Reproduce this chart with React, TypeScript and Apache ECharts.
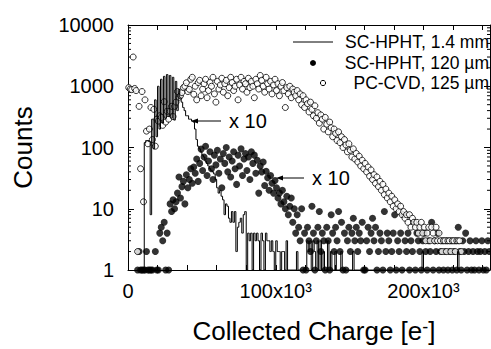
import React, { useEffect, useRef } from 'react';
import * as echarts from 'echarts';

// bin width of the histograms, in electrons
const BIN_WIDTH = 1000;

// SC-HPHT, 1.4 mm (line, x10 scaled histogram), counts per 1k e- bin starting at 0
const lineCounts: (number | null)[] = [
  null, null, null, null, null, null, null, null, null, null,
  1, 120, 130, 130, 125, 8, 290, 95, 600, 150,
  1000, 200, 1300, 250, 1450, 300, 1550, 320, 1500, 300,
  1400, 280, 1200, 400, 890, 650, 550, 450, 400, 330,
  330, 290, 290, 270, 260, 200, 135, 105, 95, 85,
  75, 70, 60, 55, 50, 45, 42, 40, 37, 30,
  22, 18, 20, 16, 14, 8, 12, 11, 7, 6,
  9, 6, 9, 2, 5, 6, 7, 4, 8, 9,
  1, 4, 3, 4, 1, 4, 3, 4, 3, 1,
  4, 3, 1, 4, 3, 3, 2, 3, 2, 1,
  3, 2, 2, 1, 2, 2, 1, 3, 1, 1,
  1, 1, 1, 1, 2, 1, 1, 1, 1, 1,
  1, 3, 2, 3, 1, 3, 2, 1, 3, 1,
  3, 1, 2, 1, 1, 3, 1, 2, 1, 1,
  2, 1, 1, 1, 2, 1, 1, 1, 1, 1,
  1, 1, 2, 1, 1, 1, 1, 1, 1, 1,
  1, 1, 1, 1, 1, 1, 1, 1, 1, 1,
  1, 1, 1, 1, 1, 1, 1, 1, 1, 1,
  1, 1, 1, 1, 1, 1, 1, 1, 1, 1,
  1, 1, 1, 1, 1, 1, 1, 1, 1, 2,
  1, 1, 1, 1, 1, 1, 1, 1, 1, 1,
  1, 1, 1, 1, 1, 1, 1, 1, 1, 1,
  1, 1, 1, 2, 1, 1, 1, 1, 1, 1,
  1, 1, 1, 1, 1, 1, 1, 1, 1, 1,
  1, 1, 1, 1, 1,
];

// SC-HPHT, 120 um (filled dots, x10 scaled)
const filledCounts: (number | null)[] = [
  null, null, null, null, null, null, 1, 2, 1, 1,
  1, 1, 2, 1, 1, 1, 1, null, 2, 1,
  1, 4, 5, 3, 6, 1, 4, 1, 12, 9,
  14, 10, 13, 18, 33, 15, 23, 28, 12, 36,
  22, 30, 45, 26, 48, 38, 65, 28, 55, 94,
  42, 70, 105, 35, 60, 85, 45, 30, 75, 52,
  90, 38, 65, 22, 80, 55, 100, 40, 70, 33,
  60, 85, 45, 25, 75, 50, 95, 35, 65, 80,
  42, 70, 30, 85, 55, 75, 38, 62, 18, 50,
  40, 58, 24, 41, 32, 20, 35, 26, 18, 29,
  22, 15, 18, 12, 20, 13, 10, 16, 8, 11,
  15, 6, 10, 4, 8, 5, 3, 10, 1, 4,
  1, 5, 3, 2, 11, 4, 1, 3, 5, 9,
  2, 4, 3, 1, 5, 3, 1, 8, 4, 2,
  5, 3, 9, 2, 6, 1, 4, 1, 3, 5,
  2, 4, 7, 3, 5, 2, 4, 3, 6, 1,
  1, 3, 5, 2, 4, 7, 3, 5, 1, 2,
  4, 3, 1, 9, 2, 4, 3, 1, 2, 4,
  8, 1, 3, 2, 4, 1, 8, 3, 2, 4,
  1, 3, 2, 6, 1, 4, 3, 2, 1, 3,
  4, 2, 1, 3, 2, 6, 1, 3, 2, 4,
  1, 2, 3, 1, 2, 3, 1, 2, 3, 1,
  2, 3, 1, 5, 2, 1, 3, 2, 4, 1,
  2, 3, 1, 2, 1, 3, 2, 1, 2, 3,
  1, 2, 1, 3, 2,
];

// PC-CVD, 125 um (open circles)
const openCounts: (number | null)[] = [
  950, 900, 880, 3000, 920, 850, 2, 470, 45, 820,
  13, 600, 185, 115, 200, 450, 135, 420, 105, 290,
  270, 330, 310, 230, 560, 260, 390, 290, 390, 470,
  320, 470, 550, 820, 660, 700, 790, 950, 1000, 1140,
  820, 890, 1300, 1400, 740, 1000, 600, 1150, 1250, 700,
  900, 1100, 1300, 650, 850, 1150, 1000, 1400, 750, 550,
  1200, 900, 1050, 1350, 800, 1100, 1250, 700, 950, 1400,
  1150, 850, 1000, 1300, 600, 1050, 1400, 900, 1200, 1100,
  800, 1350, 950, 1200, 1000, 650, 1300, 1100, 900, 1500,
  1250, 1000, 800, 1400, 1100, 900, 1200, 750, 1050, 1300,
  850, 1100, 700, 1000, 1150, 850, 450, 950, 750, 1000,
  650, 900, 800, 700, 850, 600, 750, 500, 700, 450,
  600, 520, 380, 550, 420, 330, 480, 300, 370, 250,
  340, 290, 200, 310, 240, 180, 260, 210, 150, 200,
  170, 130, 180, 120, 150, 100, 135, 110, 85, 115,
  90, 70, 95, 65, 80, 58, 72, 50, 62, 45,
  55, 40, 48, 34, 43, 30, 36, 26, 33, 23,
  28, 20, 25, 17, 21, 15, 18, 13, 16, 11,
  14, 10, 12, 9, 11, 8, 9, 7, 8, 6,
  8, 5, 7, 6, 5, 6, 4, 5, 6, 4,
  5, 3, 4, 5, 3, 5, 4, 3, 5, 3,
  4, 3, 2, 3, 3, 2, 3, 3, 2, 3,
  3, 2, 3, 3, 3, 2, null, null, null, null,
  null, null, null, null, null, null, null, null, null, null,
  null, null, null, null, null,
];

const seriesNames = ['SC-HPHT, 1.4 mm', 'SC-HPHT, 120 µm', 'PC-CVD, 125 µm'];
const xTickLabels: Record<number, string> = { 0: '0', 100000: '100x10³', 200000: '200x10³' };
const yMinorTicks = [
  2, 3, 4, 5, 6, 7, 8, 9,
  20, 30, 40, 50, 60, 70, 80, 90,
  200, 300, 400, 500, 600, 700, 800, 900,
  2000, 3000, 4000, 5000, 6000, 7000, 8000, 9000,
];
const annotationText = 'x 10';

const FONT = 'Liberation Sans';

function toPairs(counts: (number | null)[]) {
  const out: [number, number][] = [];
  counts.forEach((c, i) => {
    if (c != null) out.push([(i + 0.5) * BIN_WIDTH, c]);
  });
  return out;
}

export default function App() {
  const ref = useRef<HTMLDivElement>(null);
  useEffect(() => {
    if (!ref.current) return;
    const chart = echarts.init(ref.current, null, { renderer: 'svg' });
    const axisLine = { show: true, onZero: false, lineStyle: { color: '#000', width: 1 } };
    const xBase = {
      type: 'value' as const,
      min: 0,
      max: 245000,
      interval: 20000,
      axisLine,
      splitLine: { show: false },
      axisTick: { show: true, inside: true, length: 5, lineStyle: { color: '#000', width: 1 } },
    };
    const yBase = {
      type: 'log' as const,
      logBase: 10,
      min: 1,
      max: 10000,
      axisLine,
      splitLine: { show: false },
      axisTick: { show: true, inside: true, length: 6, lineStyle: { color: '#000', width: 1 } },
    };
    const textCommon = { fontFamily: FONT, fill: '#000' };
    chart.setOption({
      animation: false,
      grid: { left: 128, top: 25, right: 1, bottom: 77, containLabel: false },
      xAxis: [
        {
          ...xBase,
          position: 'bottom',
          axisLabel: {
            interval: 0,
            margin: 11,
            fontSize: 20,
            fontFamily: FONT,
            color: '#000',
            showMaxLabel: false,
            formatter: (v: number) => xTickLabels[v] ?? '',
          },
          name: '{a|Collected Charge [e}{b|-}{a|]}',
          nameLocation: 'middle',
          nameGap: 48,
          nameTextStyle: {
            padding: [0, 0, 0, 10],
            rich: {
              a: { fontSize: 26, fontFamily: FONT, color: '#000' },
              b: { fontSize: 18, fontFamily: FONT, color: '#000', verticalAlign: 'top' },
            },
          },
        },
        { ...xBase, position: 'top', axisLabel: { show: false } },
      ],
      yAxis: [
        {
          ...yBase,
          position: 'left',
          axisLabel: {
            margin: 14,
            fontSize: 20,
            fontFamily: FONT,
            color: '#000',
            formatter: (v: number) => String(Math.round(v)),
          },
          name: 'Counts',
          nameLocation: 'middle',
          nameGap: 92,
          nameTextStyle: { fontSize: 26, fontFamily: FONT, color: '#000' },
        },
        { ...yBase, position: 'right', axisLabel: { show: false } },
      ],
      series: [
        {
          type: 'custom',
          name: 'minorTicks',
          silent: true,
          clip: false,
          data: yMinorTicks.map((v) => [0, v]),
          renderItem: (params: any, api: any) => {
            const p = api.coord([api.value(0), api.value(1)]);
            const cs = params.coordSys;
            const st = { stroke: '#000', lineWidth: 1 };
            return {
              type: 'group',
              children: [
                { type: 'line', shape: { x1: cs.x, y1: p[1], x2: cs.x + 3, y2: p[1] }, style: st },
                { type: 'line', shape: { x1: cs.x + cs.width - 3, y1: p[1], x2: cs.x + cs.width, y2: p[1] }, style: st },
              ],
            };
          },
        },
        {
          type: 'line',
          name: seriesNames[0],
          data: toPairs(lineCounts),
          step: 'middle',
          symbol: 'none',
          lineStyle: { color: '#000', width: 1 },
          clip: true,
        },
        {
          type: 'scatter',
          name: seriesNames[1],
          data: toPairs(filledCounts),
          symbolSize: 7,
          itemStyle: { color: '#000' },
          clip: false,
        },
        {
          type: 'scatter',
          name: seriesNames[2],
          data: toPairs(openCounts),
          symbolSize: 6,
          itemStyle: { color: '#fff', borderColor: '#000', borderWidth: 1 },
          clip: false,
        },
      ],
      graphic: [
        { type: 'line', shape: { x1: 293, y1: 42, x2: 333, y2: 42 }, style: { stroke: '#000', lineWidth: 1 } },
        { type: 'text', x: 489, y: 42, style: { ...textCommon, text: seriesNames[0], fontSize: 17.5, align: 'right', verticalAlign: 'middle' } },
        { type: 'circle', shape: { cx: 313, cy: 63, r: 3 }, style: { fill: '#000' } },
        { type: 'text', x: 489, y: 63, style: { ...textCommon, text: seriesNames[1], fontSize: 17.5, align: 'right', verticalAlign: 'middle' } },
        { type: 'circle', shape: { cx: 323, cy: 83, r: 2.6 }, style: { fill: '#fff', stroke: '#000', lineWidth: 1 } },
        { type: 'text', x: 489, y: 83, style: { ...textCommon, text: seriesNames[2], fontSize: 17.5, align: 'right', verticalAlign: 'middle' } },

        { type: 'line', shape: { x1: 196, y1: 121, x2: 221, y2: 121 }, style: { stroke: '#000', lineWidth: 1 } },
        { type: 'polygon', shape: { points: [[191, 121], [198, 118.5], [198, 123.5]] }, style: { fill: '#000' } },
        { type: 'text', x: 229, y: 121, style: { ...textCommon, text: annotationText, fontSize: 20, verticalAlign: 'middle' } },

        { type: 'line', shape: { x1: 281, y1: 178, x2: 304, y2: 178 }, style: { stroke: '#000', lineWidth: 1 } },
        { type: 'polygon', shape: { points: [[276, 178], [283, 175.5], [283, 180.5]] }, style: { fill: '#000' } },
        { type: 'text', x: 312, y: 178, style: { ...textCommon, text: annotationText, fontSize: 20, verticalAlign: 'middle' } },
      ],
    });
    return () => chart.dispose();
  }, []);
  return (
    <div
      ref={ref}
      style={{ position: 'fixed', left: 0, top: 0, width: 491, height: 349, background: '#fff' }}
    />
  );
}
